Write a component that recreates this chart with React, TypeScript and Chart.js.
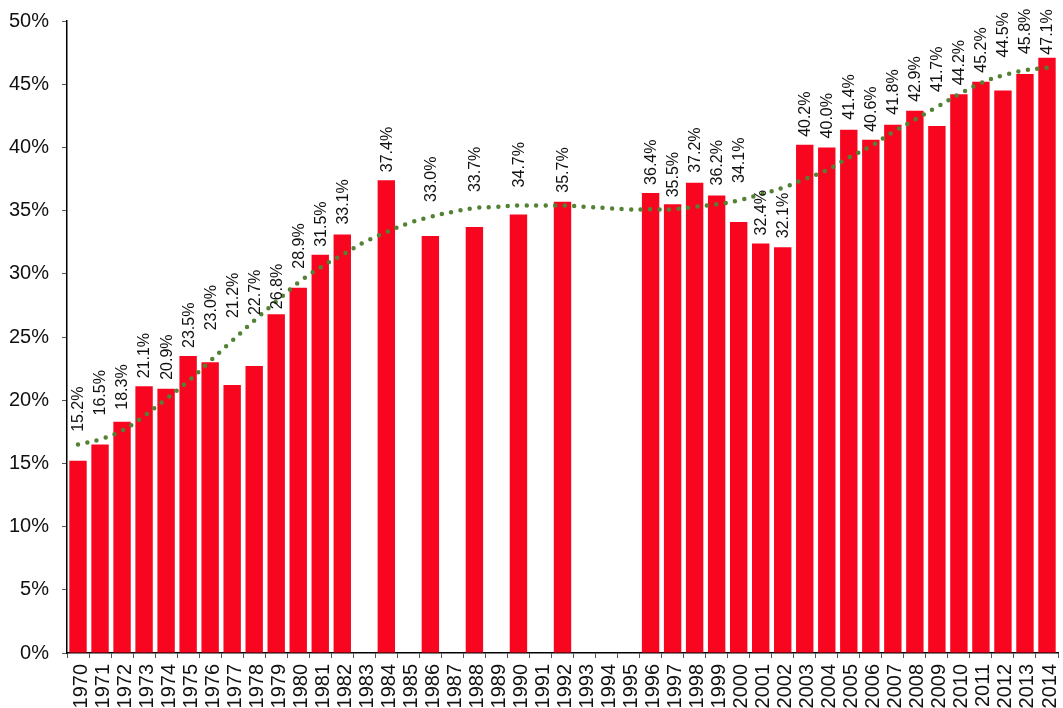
import React, { useEffect, useRef } from "react";
import { Chart, registerables } from "chart.js";

Chart.register(...registerables);

const years: string[] = [
  "1970", "1971", "1972", "1973", "1974", "1975", "1976", "1977", "1978", "1979",
  "1980", "1981", "1982", "1983", "1984", "1985", "1986", "1987", "1988", "1989",
  "1990", "1991", "1992", "1993", "1994", "1995", "1996", "1997", "1998", "1999",
  "2000", "2001", "2002", "2003", "2004", "2005", "2006", "2007", "2008", "2009",
  "2010", "2011", "2012", "2013", "2014",
];

const shares: (number | null)[] = [
  15.2, 16.5, 18.3, 21.1, 20.9, 23.5, 23.0, 21.2, 22.7, 26.8,
  28.9, 31.5, 33.1, null, 37.4, null, 33.0, null, 33.7, null,
  34.7, null, 35.7, null, null, null, 36.4, 35.5, 37.2, 36.2,
  34.1, 32.4, 32.1, 40.2, 40.0, 41.4, 40.6, 41.8, 42.9, 41.7,
  44.2, 45.2, 44.5, 45.8, 47.1,
];

const trend: number[] = [
  16.5, 16.9, 17.6, 18.75, 20.1, 21.5, 23.1, 24.7, 26.3, 27.8,
  29.3, 30.5, 31.5, 32.5, 33.3, 34.0, 34.5, 34.9, 35.2, 35.3,
  35.4, 35.4, 35.4, 35.3, 35.2, 35.1, 35.1, 35.1, 35.3, 35.5,
  35.8, 36.3, 36.8, 37.5, 38.2, 39.2, 40.1, 41.2, 42.2, 43.2,
  44.2, 45.1, 45.7, 46.1, 46.3,
];

// layout: pixel lift of each value label above its bar top
const labelLift: number[] = [
  29, 29, 12, 8, 9, 8, 32, 67, 51, 5,
  19, 8, 10, 0, 8, 0, 34, 0, 35, 0,
  27, 0, 9, 0, 0, 0, 8, 7, 10, 10,
  39, 8, 9, 8, 9, 10, 8, 10, 9, 34,
  9, 9, 33, 20, 3,
];

const FONT = "Arial, Helvetica, sans-serif";

const valueLabels = {
  id: "valueLabels",
  afterDatasetsDraw(chart: any) {
    const meta = chart.getDatasetMeta(1);
    const ctx = chart.ctx;
    ctx.save();
    ctx.font = `16px ${FONT}`;
    ctx.fillStyle = "#111";
    ctx.textAlign = "left";
    ctx.textBaseline = "middle";
    shares.forEach((v, i) => {
      if (v === null) return;
      const el = meta.data[i];
      if (!el) return;
      ctx.save();
      ctx.translate(el.x, el.y - labelLift[i]);
      ctx.rotate(-Math.PI / 2);
      ctx.fillText(v.toFixed(1) + "%", 0, 1);
      ctx.restore();
    });
    ctx.restore();
  },
};

export default function App() {
  const ref = useRef<HTMLCanvasElement>(null);
  useEffect(() => {
    if (!ref.current) return;
    const chart = new Chart(ref.current, {
      type: "bar",
      data: {
        labels: years,
        datasets: [
          {
            type: "line",
            data: trend,
            borderColor: "#548235",
            borderWidth: 4.5,
            borderDash: [0, 9.5],
            borderCapStyle: "round",
            pointRadius: 0,
            tension: 0.4,
            fill: false,
            order: 0,
          } as any,
          {
            type: "bar",
            data: shares,
            backgroundColor: "#F8061F",
            barPercentage: 0.79,
            categoryPercentage: 1,
            order: 1,
          },
        ],
      },
      options: {
        animation: false,
        responsive: false,
        maintainAspectRatio: false,
        layout: { padding: { top: 21, right: 5, left: 0, bottom: 0 } },
        plugins: { legend: { display: false }, tooltip: { enabled: false } },
        scales: {
          x: {
            offset: true,
            grid: {
              offset: true,
              drawOnChartArea: false,
              drawTicks: true,
              tickLength: 5,
              color: "#555",
            },
            border: { display: true, color: "#000", width: 1.5 },
            ticks: {
              autoSkip: false,
              minRotation: 90,
              maxRotation: 90,
              padding: 6,
              labelOffset: 3,
              color: "#111",
              font: { family: FONT, size: 20 },
            },
            afterFit(scale: any) {
              scale.height = 55;
              scale.paddingLeft = 0;
              scale.paddingRight = 0;
            },
          },
          y: {
            min: 0,
            max: 50,
            ticks: {
              stepSize: 5,
              padding: 13,
              color: "#111",
              font: { family: FONT, size: 20 },
              callback: (v: any) => v + "%",
            },
            grid: {
              drawOnChartArea: false,
              drawTicks: true,
              tickLength: 5,
              color: "#555",
            },
            border: { display: true, color: "#000", width: 1.5 },
            afterFit(scale: any) {
              scale.width = 67;
              scale.paddingTop = 0;
              scale.paddingBottom = 0;
            },
          },
        },
      },
      plugins: [valueLabels],
    });
    return () => chart.destroy();
  }, []);
  return (
    <div style={{ position: "fixed", left: 0, top: 0, width: 1063, height: 708, background: "#fff" }}>
      <canvas ref={ref} width={1063} height={708} style={{ width: 1063, height: 708 }} />
    </div>
  );
}
